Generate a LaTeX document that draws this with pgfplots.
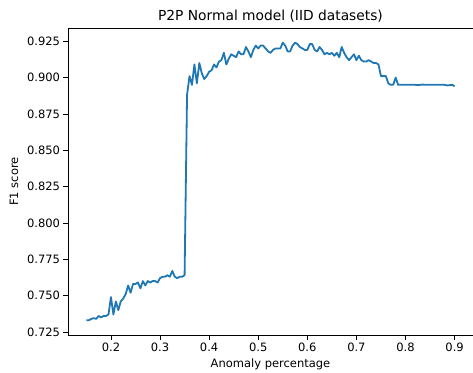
\documentclass[border=0pt]{standalone}
\usepackage{pgfplots}
\pgfplotsset{compat=1.18}
\usepackage{fontspec}
\setmainfont{DejaVu Sans}
\definecolor{mplblue}{HTML}{1F77B4}
\begin{document}
\begin{tikzpicture}[x=1pt,y=1pt]
\begin{axis}[
  at={(0,0)}, anchor=south west,
  scale only axis, width=405pt, height=307pt,
  xmin=0.1125, xmax=0.9375, ymin=0.7229, ymax=0.9341,
  xtick={0.2,0.3,0.4,0.5,0.6,0.7,0.8,0.9},
  ytick={0.725,0.75,0.775,0.8,0.825,0.85,0.875,0.9,0.925},
  xticklabel style={/pgf/number format/fixed,/pgf/number format/precision=1},
  yticklabel style={/pgf/number format/fixed,/pgf/number format/fixed zerofill,/pgf/number format/precision=3},
  /pgf/number format/assume math mode=true,
  tick label style={font=\fontsize{11.5}{13}\selectfont},
  label style={font=\fontsize{11.5}{13}\selectfont},
  title style={font=\fontsize{13.8}{15}\selectfont, yshift=-4pt},
  title={P2P Normal model (IID datasets)},
  xlabel={Anomaly percentage}, ylabel={F1 score},
  xlabel style={yshift=0pt}, ylabel style={yshift=2pt},
  tick align=outside, xtick pos=bottom, ytick pos=left,
  major tick length=4.5pt,
  axis line style={line width=0.8pt},
  every tick/.style={line width=0.8pt, black},
  scaled ticks=false,
]
\addplot[mplblue, line width=1.8pt, line join=round] table {
x y
0.150 0.733
0.155 0.733
0.160 0.734
0.165 0.7345
0.170 0.734
0.175 0.736
0.180 0.735
0.185 0.736
0.190 0.736
0.195 0.737
0.200 0.749
0.205 0.737
0.210 0.746
0.215 0.740
0.220 0.746
0.225 0.748
0.230 0.751
0.235 0.757
0.240 0.752
0.245 0.758
0.250 0.758
0.255 0.759
0.260 0.755
0.265 0.760
0.270 0.757
0.275 0.760
0.280 0.759
0.285 0.760
0.290 0.760
0.295 0.759
0.300 0.762
0.305 0.763
0.310 0.763
0.315 0.764
0.320 0.763
0.325 0.767
0.330 0.763
0.335 0.762
0.340 0.763
0.345 0.763
0.350 0.764
0.355 0.888
0.360 0.901
0.365 0.895
0.370 0.909
0.375 0.896
0.380 0.910
0.385 0.903
0.390 0.899
0.395 0.901
0.400 0.904
0.405 0.905
0.410 0.909
0.415 0.907
0.420 0.911
0.425 0.912
0.430 0.917
0.435 0.909
0.440 0.913
0.445 0.916
0.450 0.915
0.455 0.914
0.460 0.918
0.465 0.916
0.470 0.916
0.475 0.921
0.480 0.918
0.485 0.914
0.490 0.919
0.495 0.922
0.500 0.920
0.505 0.922
0.510 0.922
0.515 0.920
0.520 0.918
0.525 0.917
0.530 0.919
0.535 0.920
0.540 0.920
0.545 0.920
0.550 0.924
0.555 0.922
0.560 0.918
0.565 0.918
0.570 0.922
0.575 0.924
0.580 0.923
0.585 0.921
0.590 0.920
0.595 0.919
0.600 0.919
0.605 0.923
0.610 0.923
0.615 0.919
0.620 0.918
0.625 0.921
0.630 0.919
0.635 0.916
0.640 0.917
0.645 0.916
0.650 0.917
0.655 0.915
0.660 0.917
0.665 0.914
0.670 0.921
0.675 0.917
0.680 0.914
0.685 0.912
0.690 0.914
0.695 0.916
0.700 0.912
0.705 0.915
0.710 0.912
0.715 0.911
0.720 0.911
0.725 0.912
0.730 0.911
0.735 0.910
0.740 0.910
0.745 0.909
0.750 0.901
0.755 0.901
0.760 0.901
0.765 0.896
0.770 0.895
0.775 0.895
0.780 0.900
0.785 0.895
0.790 0.895
0.795 0.895
0.800 0.895
0.805 0.895
0.810 0.895
0.815 0.895
0.820 0.895
0.825 0.8948
0.830 0.895
0.835 0.8952
0.840 0.895
0.845 0.895
0.850 0.895
0.855 0.895
0.860 0.895
0.865 0.895
0.870 0.895
0.875 0.895
0.880 0.895
0.885 0.8946
0.890 0.8948
0.895 0.8950
0.900 0.8940
};
\end{axis}
\pgfresetboundingbox
\path[use as bounding box] (-68pt,-37pt) rectangle (405pt,335pt);
\end{tikzpicture}
\end{document}
